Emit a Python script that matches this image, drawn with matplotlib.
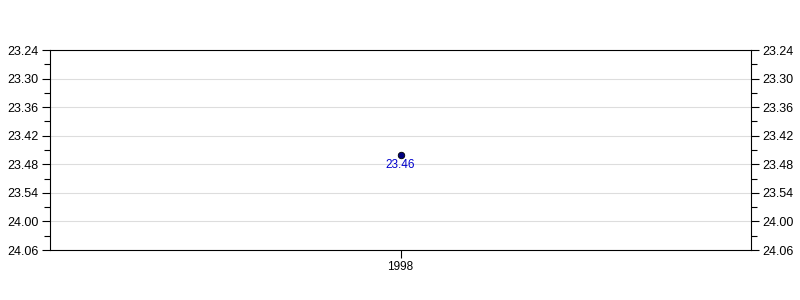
import matplotlib.pyplot as plt
from matplotlib.ticker import MultipleLocator, FuncFormatter

plt.rcParams['font.family'] = ['Liberation Sans', 'DejaVu Sans']

years = [1998]
times = ['23.46']  # minutes.seconds

def to_sec(t):
    m, s = t.split('.')
    return int(m) * 60 + int(s)

def fmt(v, pos=None):
    v = int(round(v))
    return '%d.%02d' % (v // 60, v % 60)

secs = [to_sec(t) for t in times]
ymin, ymax = to_sec('23.24'), to_sec('24.06')

fig = plt.figure(figsize=(8, 3), dpi=100)
ax = fig.add_axes([50 / 800, 50 / 300, 701 / 800, 200 / 300])

ax.scatter(years, secs, s=22, color='#000080', edgecolors='black', linewidths=0.6, zorder=3)
for x, y, t in zip(years, secs, times):
    ax.annotate(t, (x, y), xytext=(0, -7.5), textcoords='offset points',
                ha='center', va='center', color='#0000cc', fontsize=8.5)

ax.set_xlim(years[0] - 0.5, years[0] + 0.5)
ax.set_xticks(years)
ax.set_xticklabels([str(y) for y in years])
ax.set_ylim(ymax, ymin)
ax.yaxis.set_major_locator(MultipleLocator(6))
ax.yaxis.set_minor_locator(MultipleLocator(3))
ax.yaxis.set_major_formatter(FuncFormatter(fmt))
ax.grid(axis='y', which='major', color='#dddddd', linewidth=0.8)
ax.set_axisbelow(True)

ax.tick_params(axis='y', which='both', left=True, right=True, labelleft=True, labelright=True,
               direction='out', labelsize=9)
ax.tick_params(axis='y', which='major', length=6, width=0.8, pad=2)
ax.tick_params(axis='y', which='minor', length=4, width=0.8)
ax.tick_params(axis='x', length=6, width=0.8, labelsize=8.5, pad=2)
for sp in ax.spines.values():
    sp.set_linewidth(0.8)

fig.savefig('out.png', dpi=100)
